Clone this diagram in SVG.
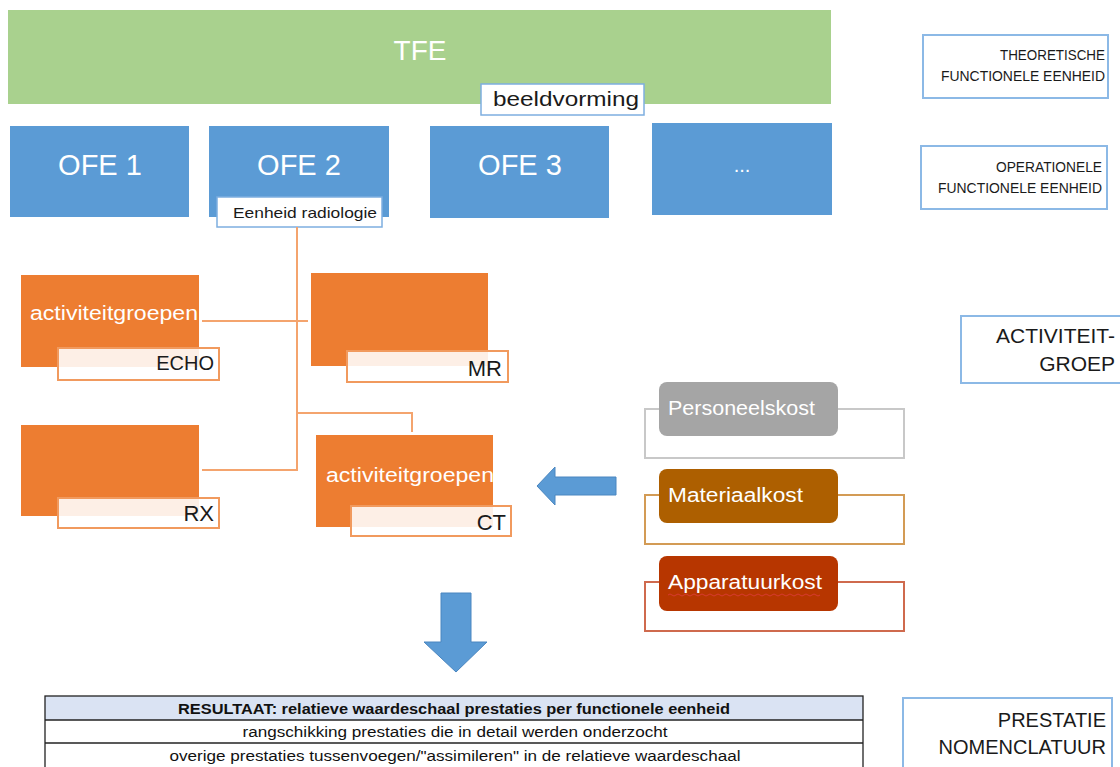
<svg xmlns="http://www.w3.org/2000/svg" width="1120" height="767" viewBox="0 0 1120 767">
<defs>
<style>
text{font-family:"Liberation Sans","Open Sans",sans-serif}
.tfe{fill:#a9d18e}
.ofe{fill:#5b9bd5}
.wt{fill:#fff}
.bk{fill:#1a1a1a}
.lbl{fill:#fff;stroke:#7eaee0;stroke-width:1.5}
.side{fill:#fff;stroke:#8cb9e6;stroke-width:2}
.act{fill:#ed7d31}
.tag{fill:#fff;fill-opacity:0.88;stroke:#f19a5e;stroke-width:2}
.conn{fill:none;stroke:#f4a46e;stroke-width:2}
.barrow{fill:#5b9bd5;stroke:#4a86c0;stroke-width:1}
.tbl{fill:none;stroke:#222;stroke-width:1.3}
</style>
</defs>

<g id="tfe">
<rect class="tfe" x="8" y="10" width="823" height="94"/>
<text class="wt" x="420" y="60" font-size="28" text-anchor="middle">TFE</text>
</g>
<g id="beeldvorming">
<rect class="lbl" x="481" y="84" width="163" height="31"/>
<text class="bk" x="493" y="106" font-size="20" textLength="146" lengthAdjust="spacingAndGlyphs">beeldvorming</text>
</g>

<g id="ofe1">
<rect class="ofe" x="10" y="126" width="179" height="91"/>
<text class="wt" x="100" y="175" font-size="29" text-anchor="middle">OFE 1</text>
</g>
<g id="ofe2">
<rect class="ofe" x="209" y="126" width="180" height="91"/>
<text class="wt" x="299" y="175" font-size="29" text-anchor="middle">OFE 2</text>
</g>
<g id="ofe3">
<rect class="ofe" x="430" y="126" width="179" height="92"/>
<text class="wt" x="520" y="175" font-size="29" text-anchor="middle">OFE 3</text>
</g>
<g id="ofe-more">
<rect class="ofe" x="652" y="123" width="180" height="92"/>
<text class="wt" x="742" y="172" font-size="20" text-anchor="middle">...</text>
</g>
<g id="eenheid-radiologie">
<rect class="lbl" x="217" y="197" width="165" height="30"/>
<text class="bk" x="233" y="218" font-size="15" textLength="144" lengthAdjust="spacingAndGlyphs">Eenheid radiologie</text>
</g>

<g id="connectors">
<path class="conn" d="M297 227 V470 H202"/>
<path class="conn" d="M202 321 H308"/>
<path class="conn" d="M297 413 H412 V432"/>
</g>

<g id="echo">
<rect class="act" x="21" y="275" width="178" height="92"/>
<text class="wt" x="30" y="320" font-size="20" textLength="168" lengthAdjust="spacingAndGlyphs">activiteitgroepen</text>
<rect class="tag" x="58" y="348" width="161" height="32"/>
<text class="bk" x="214" y="370" font-size="20" text-anchor="end">ECHO</text>
</g>
<g id="mr">
<rect class="act" x="311" y="273" width="177" height="93"/>
<rect class="tag" x="347" y="351" width="161" height="31"/>
<text class="bk" x="502" y="376" font-size="22" text-anchor="end">MR</text>
</g>
<g id="rx">
<rect class="act" x="21" y="425" width="178" height="91"/>
<rect class="tag" x="58" y="498" width="161" height="30"/>
<text class="bk" x="214" y="521" font-size="22" text-anchor="end">RX</text>
</g>
<g id="ct">
<rect class="act" x="316" y="435" width="177" height="92"/>
<text class="wt" x="326" y="482" font-size="20" textLength="168" lengthAdjust="spacingAndGlyphs">activiteitgroepen</text>
<rect class="tag" x="351" y="506" width="160" height="30"/>
<text class="bk" x="506" y="530" font-size="22" text-anchor="end">CT</text>
</g>

<g id="arrow-left">
<path class="barrow" d="M537 486 L555 467 V477 H616 V495 H555 V505 Z"/>
</g>

<g id="personeelskost">
<rect x="645" y="409" width="259" height="49" fill="#fff" stroke="#c8c8c8" stroke-width="2"/>
<rect x="659" y="382" width="179" height="54" rx="8" fill="#a5a5a5"/>
<text class="wt" x="668" y="415" font-size="20" textLength="147" lengthAdjust="spacingAndGlyphs">Personeelskost</text>
</g>
<g id="materiaalkost">
<rect x="645" y="495" width="259" height="49" fill="#fff" stroke="#d39b55" stroke-width="2"/>
<rect x="659" y="469" width="179" height="54" rx="8" fill="#ad5f00"/>
<text class="wt" x="668" y="502" font-size="20" textLength="135" lengthAdjust="spacingAndGlyphs">Materiaalkost</text>
</g>
<g id="apparatuurkost">
<rect x="645" y="582" width="259" height="49" fill="#fff" stroke="#cf6a4e" stroke-width="2"/>
<rect x="659" y="556" width="179" height="55" rx="8" fill="#b73600"/>
<text class="wt" x="668" y="589" font-size="20" textLength="154" lengthAdjust="spacingAndGlyphs">Apparatuurkost</text>
<path d="M668 595 q2 -2 4 0 t4 0 t4 0 t4 0 t4 0 t4 0 t4 0 t4 0 t4 0 t4 0 t4 0 t4 0 t4 0 t4 0 t4 0 t4 0 t4 0 t4 0 t4 0 t4 0 t4 0 t4 0 t4 0 t4 0 t4 0 t4 0 t4 0 t4 0 t4 0 t4 0 t4 0 t4 0 t4 0 t4 0 t4 0 t4 0 t4 0 t4 0" fill="none" stroke="#e03c3c" stroke-width="0.8"/>
</g>

<g id="arrow-down">
<path class="barrow" d="M441 593 H471 V642 H487 L456 672 L424 642 H441 Z"/>
</g>

<g id="resultaat-table">
<rect x="45" y="696" width="818" height="24" fill="#dae3f3"/>
<rect class="tbl" x="45" y="696" width="818" height="80"/>
<line class="tbl" x1="45" y1="720" x2="863" y2="720"/>
<line class="tbl" x1="45" y1="743" x2="863" y2="743"/>
<text x="454" y="714" font-size="14" font-weight="bold" fill="#111" text-anchor="middle" textLength="552" lengthAdjust="spacingAndGlyphs">RESULTAAT: relatieve waardeschaal prestaties per functionele eenheid</text>
<text x="455" y="737" font-size="14" fill="#111" text-anchor="middle" textLength="425" lengthAdjust="spacingAndGlyphs">rangschikking prestaties die in detail werden onderzocht</text>
<text x="455" y="761" font-size="14" fill="#111" text-anchor="middle" textLength="571" lengthAdjust="spacingAndGlyphs">overige prestaties tussenvoegen/"assimileren" in de relatieve waardeschaal</text>
</g>

<g id="label-tfe">
<rect class="side" x="923" y="35" width="185" height="63"/>
<text class="bk" x="1105" y="60" font-size="14" text-anchor="end" textLength="105" lengthAdjust="spacingAndGlyphs">THEORETISCHE</text>
<text class="bk" x="1105" y="81" font-size="14" text-anchor="end" textLength="164" lengthAdjust="spacingAndGlyphs">FUNCTIONELE EENHEID</text>
</g>
<g id="label-ofe">
<rect class="side" x="921" y="146" width="186" height="63"/>
<text class="bk" x="1102" y="172" font-size="14" text-anchor="end" textLength="106" lengthAdjust="spacingAndGlyphs">OPERATIONELE</text>
<text class="bk" x="1102" y="193" font-size="14" text-anchor="end" textLength="164" lengthAdjust="spacingAndGlyphs">FUNCTIONELE EENHEID</text>
</g>
<g id="label-activiteitgroep">
<rect class="side" x="961" y="316" width="170" height="67"/>
<text class="bk" x="1115" y="343" font-size="21" text-anchor="end">ACTIVITEIT-</text>
<text class="bk" x="1115" y="371" font-size="21" text-anchor="end">GROEP</text>
</g>
<g id="label-prestatie">
<rect class="side" x="903" y="698" width="209" height="80"/>
<text class="bk" x="1106" y="727" font-size="20" text-anchor="end">PRESTATIE</text>
<text class="bk" x="1106" y="754" font-size="20" text-anchor="end">NOMENCLATUUR</text>
</g>
</svg>
